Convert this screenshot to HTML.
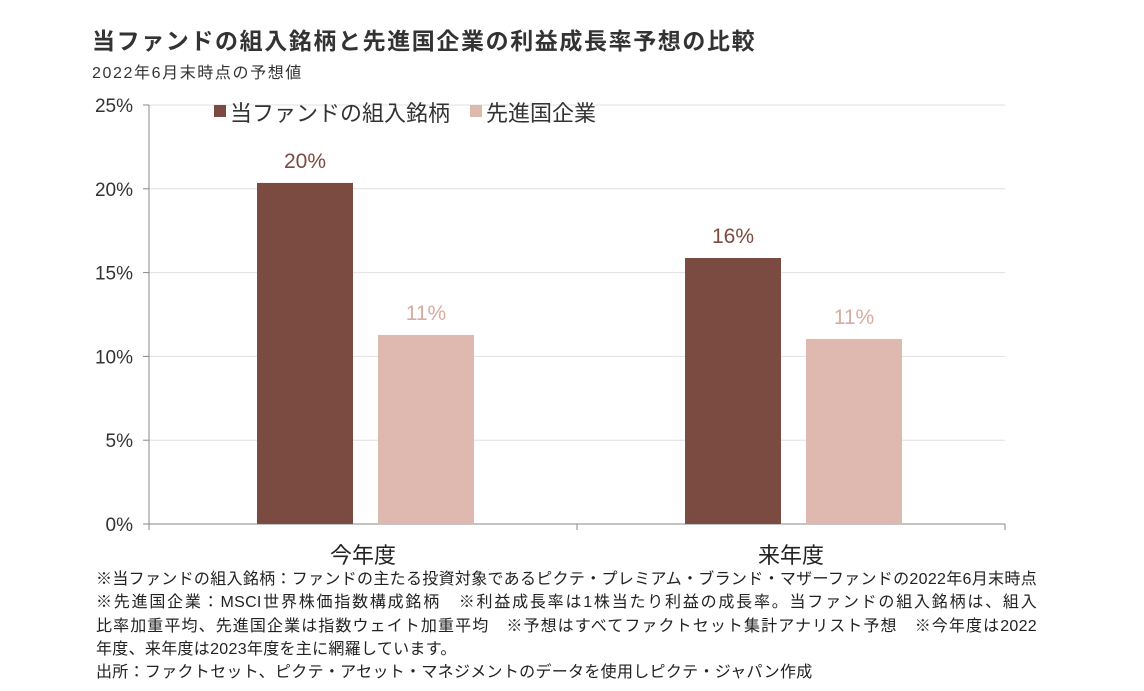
<!DOCTYPE html>
<html><head><meta charset="utf-8"><style>
body{margin:0;width:1144px;height:691px;background:#fff;font-family:"Liberation Sans","Noto Sans CJK JP",sans-serif;color:#222;overflow:hidden;position:relative}
.t{position:absolute;white-space:nowrap}
.fl{white-space:nowrap;height:23.3px}
.j{text-align:justify;text-align-last:justify;width:941px}
</style></head><body>
<div class="t" style="left:92px;top:22px;font-size:23px;font-weight:bold;color:#333;letter-spacing:1.6px">当ファンドの組入銘柄と先進国企業の利益成長率予想の比較</div>
<div class="t" style="left:92px;top:59px;font-size:16px;color:#333;letter-spacing:1.6px">2022年6月末時点の予想値</div>
<svg id="c" width="1144" height="691" style="position:absolute;left:0;top:0"></svg>
<div class="t" style="left:96px;top:568px;font-size:16px;line-height:23.3px;color:#222;letter-spacing:0.3px">
<div class="fl j">※当ファンドの組入銘柄：ファンドの主たる投資対象であるピクテ・プレミアム・ブランド・マザーファンドの2022年6月末時点</div>
<div class="fl j">※先進国企業：MSCI世界株価指数構成銘柄　※利益成長率は1株当たり利益の成長率。当ファンドの組入銘柄は、組入</div>
<div class="fl j">比率加重平均、先進国企業は指数ウェイト加重平均　※予想はすべてファクトセット集計アナリスト予想　※今年度は2022</div>
<div class="fl">年度、来年度は2023年度を主に網羅しています。</div>
<div class="fl">出所：ファクトセット、ピクテ・アセット・マネジメントのデータを使用しピクテ・ジャパン作成</div></div>
<script>
const categories=["今年度","来年度"];
const seriesNames=["当ファンドの組入銘柄","先進国企業"];
const fundValues=[20.35,15.87];
const devValues=[11.28,11.04];
const fundLabels=["20%","16%"];
const devLabels=["11%","11%"];
const yTicks=[0,5,10,15,20,25];
const NS="http://www.w3.org/2000/svg",svg=document.getElementById('c');
const X0=149,X1=1005,Y0=524,Y1=105,YMAX=25;
const y=v=>Y0-(Y0-Y1)*v/YMAX;
const band=(X1-X0)/categories.length;
const cx=i=>X0+band*(i+0.5);
const colors=["#7b4a40","#dfb9b0"];
function mk(t,a,txt){const e=document.createElementNS(NS,t);for(const k in a)e.setAttribute(k,a[k]);if(txt!=null)e.textContent=txt;svg.appendChild(e);return e;}
yTicks.forEach(v=>{
 if(v>0){const g=mk('line',{x1:X0,x2:X1,y1:y(v),y2:y(v),stroke:'#e0e0e0','stroke-width':1});
 
 }
 const t=mk('text',{x:133,y:y(v)+7,'text-anchor':'end','font-size':19,fill:'#333','font-family':'Liberation Sans, sans-serif'},v+'%');
 
 
 const tk=mk('line',{x1:X0-6,x2:X0,y1:y(v),y2:y(v),stroke:'#888'});
 
 
});
const ya=mk('line',{x1:X0,x2:X0,y1:Y1,y2:Y0,stroke:'#888'});


const xa=mk('line',{x1:X0,x2:X1,y1:Y0,y2:Y0,stroke:'#888'});


for(let i=0;i<=categories.length;i++){const l=mk('line',{x1:X0+band*i,x2:X0+band*i,y1:Y0,y2:Y0+6,stroke:'#888'});
 
 }
const bw=96,off=[-106,15];
categories.forEach((c,i)=>{
 [fundValues,devValues].forEach((arr,s)=>{
  const x=cx(i)+off[s];
  const r=mk('rect',{x:x,y:y(arr[i]),width:bw,height:Y0-y(arr[i]),fill:colors[s]});
  
  
  const lb=(s?devLabels:fundLabels)[i];
  const t=mk('text',{x:x+bw/2,y:y(arr[i])-15,'text-anchor':'middle','font-size':21,fill:s?'#d9aba0':'#7b4a40'},lb);
  
  
 });
 const t=mk('text',{x:cx(i),y:563,'text-anchor':'middle','font-size':22,fill:'#222'},c);
 
 
});
const lx=[214,470];
seriesNames.forEach((n,s)=>{
 const r=mk('rect',{x:lx[s],y:105,width:12,height:12,fill:colors[s]});
 
 
 const t=mk('text',{x:lx[s]+16,y:121,'font-size':22,fill:'#333'},n);
 
 
});
</script>
</body></html>
